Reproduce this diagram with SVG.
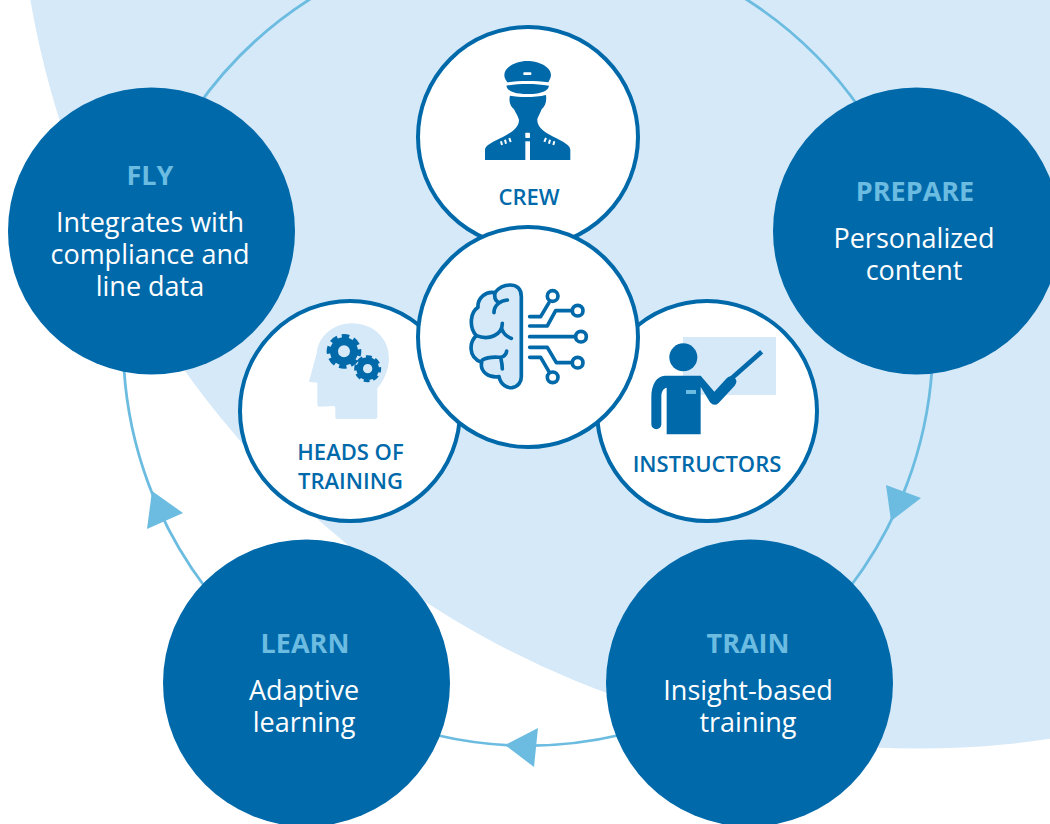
<svg xmlns="http://www.w3.org/2000/svg" width="1050" height="824" viewBox="0 0 1050 824">
<style>
.main{fill:#0069aa}
.pale{fill:#d6e9f8}
.arc{fill:none;stroke:#6bbce0;stroke-width:2.800}
.head{fill:#6bbce0}
.ring{fill:#fff;stroke:#0069aa;stroke-width:4}
text{font-family:"Open Sans","Noto Sans",sans-serif;text-anchor:middle}
.t{font-size:27px;font-weight:700;fill:#6bbce0}
.b{font-size:27px;fill:#fff}
.l{font-size:22px;font-weight:600;fill:#0069aa}
.ln{fill:none;stroke:#0069aa;stroke-width:11;stroke-linecap:round;stroke-linejoin:round}
</style>
<circle class="pale" cx="918" cy="-152" r="900.5"/>
<g id="connectors">
<path class="arc" d="M195 110A405 405 0 0 1 861 110"/>
<path class="arc" d="M932 369A405 405 0 0 1 850 587"/>
<path class="arc" d="M620 735A405 405 0 0 1 436 735"/>
<path class="arc" d="M205 587A405 405 0 0 1 124 369"/>
<polygon class="head" points="886,485 921,498 891,521"/>
<polygon class="head" points="505,745 538,728 534,767"/>
<polygon class="head" points="152,491 183,513 147,529"/>
</g>
<g id="fly"><circle class="main" cx="151.500" cy="231" r="143.500"/>
<text class="t" x="150" y="185">FLY</text><text class="b" x="150" y="232">Integrates with</text><text class="b" x="150" y="264">compliance and</text><text class="b" x="150" y="296">line data</text></g>
<g id="prepare"><circle class="main" cx="916.500" cy="231" r="143.500"/>
<text class="t" x="915" y="201">PREPARE</text><text class="b" x="914" y="248">Personalized</text><text class="b" x="914" y="280">content</text></g>
<g id="learn"><circle class="main" cx="306.500" cy="683" r="143.500"/>
<text class="t" x="305" y="653">LEARN</text><text class="b" x="304" y="700">Adaptive</text><text class="b" x="304" y="732">learning</text></g>
<g id="train"><circle class="main" cx="749.500" cy="683" r="143.500"/>
<text class="t" x="748" y="653">TRAIN</text><text class="b" x="748" y="700">Insight-based</text><text class="b" x="748" y="732">training</text></g>
<g id="crew"><circle class="ring" cx="528" cy="137" r="110"/>
<g transform="translate(420 30) scale(.3333)">
<path class="main" d="M253 135C253 110 290 93 322 93C355 93 393 110 393 135C393 145 387 152 385 157C350 152 295 152 262 157C258 150 253 145 253 135Z"/>
<rect x="310" y="127" width="24" height="8" rx="2" fill="#fff"/>
<path class="main" d="M259 167C300 160 345 160 387 167C385 180 370 192 322 192C275 192 262 180 259 167Z"/>
<path class="main" d="M270 197C300 203 345 203 378 195C381 215 375 230 365 238C358 255 352 265 352 270C352 290 370 305 400 320C430 335 451 345 451 360V390H195V360C195 345 220 335 250 320C280 305 297 290 297 270C295 260 288 250 282 238C272 230 265 215 270 197Z"/>
<rect x="316" y="308" width="14" height="16" rx="2" fill="#fff"/>
<rect x="316" y="334" width="14" height="56" fill="#fff"/>
<path d="M243 334L246 345M255 329L258 341M268 324L272 336M378 324L373 336M390 329L387 341M403 334L400 345" stroke="#fff" stroke-width="6" fill="none"/>
</g>
<text class="l" x="529" y="205">CREW</text></g>
<g id="heads"><circle class="ring" cx="350" cy="411" r="110"/>
<g transform="translate(280 310) scale(.3333)">
<path class="pale" d="M87 215L110 130C115 75 165 40 215 40C280 40 327 85 327 145C327 180 310 215 292 235V320Q292 327 285 327H172Q166 327 166 320V293Q166 288 160 288L118 290Q112 290 112 283V218Z"/>
<circle cx="192" cy="124" r="30" fill="none" stroke="#0069aa" stroke-width="24"/>
<circle cx="192" cy="124" r="45" fill="none" stroke="#0069aa" stroke-width="14" stroke-dasharray="22 13.34" stroke-dashoffset="8"/>
<circle cx="263" cy="176" r="24" fill="none" stroke="#0069aa" stroke-width="20"/>
<circle cx="263" cy="176" r="35" fill="none" stroke="#0069aa" stroke-width="11" stroke-dasharray="17 10.49" stroke-dashoffset="6"/>
</g>
<text class="l" x="350.500" y="460">HEADS OF</text><text class="l" x="350.500" y="489">TRAINING</text></g>
<g id="instructors"><circle class="ring" cx="707" cy="411" r="110"/>
<g transform="translate(630 325) scale(.3333)">
<rect class="pale" x="159" y="36" width="279" height="174"/>
<circle class="main" cx="160" cy="97" r="42"/>
<path class="main" d="M110 328H212V185L240 232Q253 246 266 234L314 182Q326 168 312 157Q300 150 290 160L253 200L212 152H105C80 152 64 180 64 215V298A15 15 0 0 0 94 298V215C94 200 100 190 110 188Z"/>
<path d="M305 160L395 80" stroke="#0069aa" stroke-width="14" fill="none"/>
<rect x="168" y="195" width="30" height="12" fill="#6bbce0"/>
</g>
<text class="l" x="707" y="472">INSTRUCTORS</text></g>
<g id="ai"><circle class="ring" cx="528" cy="337" r="110"/>
<g transform="translate(439 270) scale(.3333)">
<path class="pale" d="M247 80C247 55 232 45 213 45C195 45 180 52 168 68C140 62 115 85 117 112C95 125 88 170 112 197C92 215 85 262 128 277C122 305 150 325 180 320C185 345 205 355 220 353C238 350 247 335 247 320Z"/>
<path class="ln" d="M247 80C247 55 232 45 213 45C195 45 180 52 168 68C140 62 115 85 117 112C95 125 88 170 112 197C92 215 85 262 128 277C122 305 150 325 180 320C185 345 205 355 220 353C238 350 247 335 247 320Z"/>
<path class="ln" d="M205 90C185 92 165 105 165 128M168 68C165 85 172 95 182 98M112 197C150 212 190 195 190 160M190 180C195 195 205 200 217 205M130 270C150 258 175 262 185 262C195 262 203 250 203 243M185 262C188 275 190 285 190 297"/>
<path class="ln" d="M272 140H305L330 98M272 168H325L350 122H395M272 200H405M272 232H325L352 278H395M272 262H305L330 305"/>
<g fill="#fff" stroke="#0069aa" stroke-width="11"><circle cx="341" cy="78" r="16"/><circle cx="416" cy="122" r="16"/><circle cx="426" cy="200" r="16"/><circle cx="416" cy="278" r="16"/><circle cx="341" cy="322" r="16"/></g>
</g></g>
</svg>
